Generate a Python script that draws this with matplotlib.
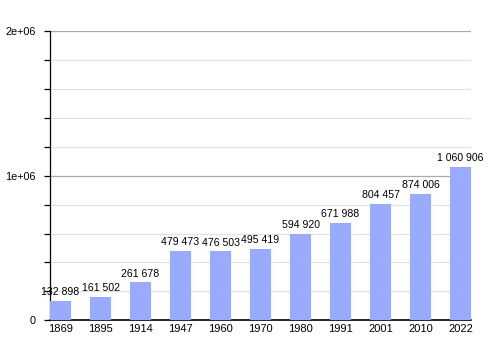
import matplotlib.pyplot as plt
import numpy as np

years = ["1869", "1895", "1914", "1947", "1960", "1970", "1980", "1991", "2001", "2010", "2022"]
population = [132898, 161502, 261678, 479473, 476503, 495419, 594920, 671988, 804457, 874006, 1060906]
labels = ["132 898", "161 502", "261 678", "479 473", "476 503", "495 419",
          "594 920", "671 988", "804 457", "874 006", "1 060 906"]

plt.rcParams['font.family'] = ['Liberation Sans', 'DejaVu Sans']

fig = plt.figure(figsize=(5, 3.5), dpi=100)
ax = fig.add_axes([0.1, 0.085, 0.842, 0.826])

x = np.arange(len(years))
w = 0.525
ax.bar(x, population, width=w, align='edge', color='#99aaff', zorder=3)

# horizontal guides: light every 200k, darker at each million
for v in np.arange(200000, 2000001, 200000):
    if v % 1000000 == 0:
        ax.axhline(v, color='#aaaaaa', lw=0.9, zorder=1)
    else:
        ax.axhline(v, color='#e2e2e2', lw=0.9, zorder=1)

for xi, v, s in zip(x, population, labels):
    ax.text(xi + w / 2, v + 26000, s, ha='center', va='bottom', fontsize=7.6, zorder=4)

ax.set_xlim(0, len(years) - 1 + w)
ax.set_ylim(0, 2000000)
ax.set_xticks(x + w / 2)
ax.set_xticklabels(years, fontsize=8)
ax.tick_params(axis='x', length=0, pad=3)
ax.set_yticks(np.arange(0, 2000001, 200000))
ax.set_yticklabels(["0" if v == 0 else ("1e+06" if v == 1000000 else ("2e+06" if v == 2000000 else ""))
                    for v in np.arange(0, 2000001, 200000)], fontsize=7.8)
ax.tick_params(axis='y', length=4, width=0.9, pad=6.5)

for side in ['top', 'right']:
    ax.spines[side].set_visible(False)
ax.spines['left'].set_linewidth(0.9)
ax.spines['bottom'].set_linewidth(1.2)

fig.savefig("out.png")
